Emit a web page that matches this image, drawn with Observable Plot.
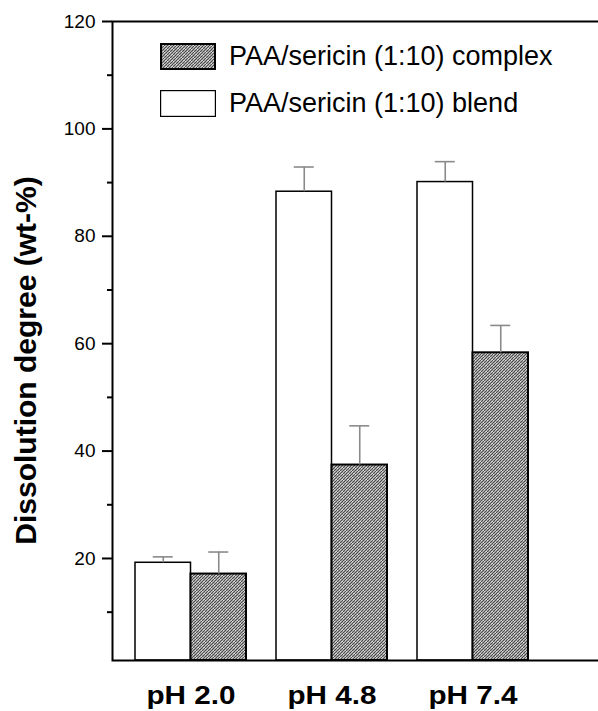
<!DOCTYPE html>
<html><head><meta charset="utf-8">
<script src="https://cdn.jsdelivr.net/npm/d3@7"></script>
<script src="https://cdn.jsdelivr.net/npm/@observablehq/plot@0.6"></script>
<style>
body{margin:0;background:#fff;}
#chart{position:relative;width:598px;height:711px;overflow:hidden;}
#chart svg{display:block;}
.legend{position:absolute;left:160px;height:30px;font-family:"Liberation Sans",Arial,sans-serif;font-size:27px;color:#000;display:flex;align-items:center;white-space:nowrap;}
.legend svg{margin-right:13px;flex:none;}
</style></head><body><div id="chart"></div>
<script>
const categories = ["pH 2.0", "pH 4.8", "pH 7.4"];
const seriesNames = ["PAA/sericin (1:10) complex", "PAA/sericin (1:10) blend"];
const blendValues = [19.2, 88.3, 90.1];
const blendErrors = [1.1, 4.6, 3.8];
const complexValues = [17.1, 37.4, 58.3];
const complexErrors = [4.1, 7.3, 5.1];
const majorTicks = [20, 40, 60, 80, 100, 120];
const minorTicks = [10, 30, 50, 70, 90, 110];
const yLabel = "Dissolution degree (wt-%)";

const blend = categories.map((c, i) => ({ph: c, value: blendValues[i], top: blendValues[i] + blendErrors[i]}));
const complex = categories.map((c, i) => ({ph: c, value: complexValues[i], top: complexValues[i] + complexErrors[i]}));

const errColor = "#8a8a8a";
const plot = Plot.plot({
  width: 598, height: 711,
  marginTop: 21, marginBottom: 51, marginLeft: 112, marginRight: -3,
  style: {fontFamily: '"Liberation Sans", Arial, sans-serif', background: "white", color: "black"},
  x: {domain: categories, range: [64, 598], paddingInner: 30 / 141, paddingOuter: 0.5, axis: null},
  y: {domain: [1, 120], axis: null},
  marks: [
    Plot.barY(blend, {x: "ph", y1: 1, y2: "value", insetRight: 55.5, fill: "white", stroke: "black", strokeWidth: 1.5}),
    Plot.barY(complex, {x: "ph", y1: 1, y2: "value", insetLeft: 55.5, fill: "url(#hatch)", stroke: "black", strokeWidth: 2}),
    Plot.ruleX(blend, {x: "ph", dx: -27.75, y1: "value", y2: "top", stroke: errColor, strokeWidth: 1.6}),
    Plot.tickY(blend, {x: "ph", y: "top", insetLeft: 17.75, insetRight: 73.25, stroke: errColor, strokeWidth: 1.6}),
    Plot.ruleX(complex, {x: "ph", dx: 27.75, y1: "value", y2: "top", stroke: errColor, strokeWidth: 1.6}),
    Plot.tickY(complex, {x: "ph", y: "top", insetLeft: 73.25, insetRight: 17.75, stroke: errColor, strokeWidth: 1.6}),
    Plot.axisY(majorTicks, {tickSize: 10, tickPadding: 7, fontSize: 19, strokeWidth: 2, label: null, tickFormat: d => String(d)}),
    Plot.axisY(minorTicks, {tickSize: 5, text: null, strokeWidth: 2, label: null}),
    Plot.axisX(categories, {tickSize: 0, tickPadding: 25, fontSize: 26, fontWeight: "bold", label: null}),
    Plot.frame({stroke: "black", strokeWidth: 2}),
    Plot.text([yLabel], {frameAnchor: "left", textAnchor: "middle", dx: -86, dy: 19.5, rotate: -90, fontSize: 30, fontWeight: "bold", fill: "black"})
  ]
});

function addHatch(svgSel, id) {
  const n = 6;
  const defs = svgSel.insert("defs", ":first-child");
  const pat = defs.append("pattern").attr("id", id).attr("patternUnits", "userSpaceOnUse").attr("width", n).attr("height", n);
  pat.append("rect").attr("width", n).attr("height", n).attr("fill", "#a4a4a4");
  for (let px = 0; px < n; px++) {
    for (let py = 0; py < n; py++) {
      let c = null;
      if ((px + py) % 3 === 0) c = "#4a4a4a";
      else if (((px - py) % 6 + 6) % 6 === 1) c = "#dcdcdc";
      else if ((px * 2 + py) % 5 === 0) c = "#c4c4c4";
      if (c) pat.append("rect").attr("x", px).attr("y", py).attr("width", 1).attr("height", 1).attr("fill", c).attr("shape-rendering", "crispEdges");
    }
  }
}
addHatch(d3.select(plot), "hatch");
d3.select(plot).selectAll('g[aria-label="x-axis tick label"] text').attr("textLength", 89).attr("lengthAdjust", "spacingAndGlyphs");
d3.select(plot).selectAll('g[aria-label="y-axis tick label"]').attr("font-size", 19).style("font-size", "19px");

const chart = document.getElementById("chart");
chart.appendChild(plot);

const legendRows = [
  {name: seriesNames[0], top: 41, fill: "url(#hatchL)", sw: 2},
  {name: seriesNames[1], top: 88, fill: "white", sw: 1.2}
];
legendRows.forEach(r => {
  const div = d3.select(chart).append("div").attr("class", "legend").style("top", r.top + "px");
  const s = div.append("svg").attr("width", 56).attr("height", 27);
  if (r.fill.startsWith("url")) addHatch(s, "hatchL");
  s.append("rect").attr("x", r.sw / 2).attr("y", r.sw / 2).attr("width", 56 - r.sw).attr("height", 27 - r.sw)
    .attr("fill", r.fill).attr("stroke", "black").attr("stroke-width", r.sw);
  div.append("span").text(r.name);
});
</script>
</body></html>
